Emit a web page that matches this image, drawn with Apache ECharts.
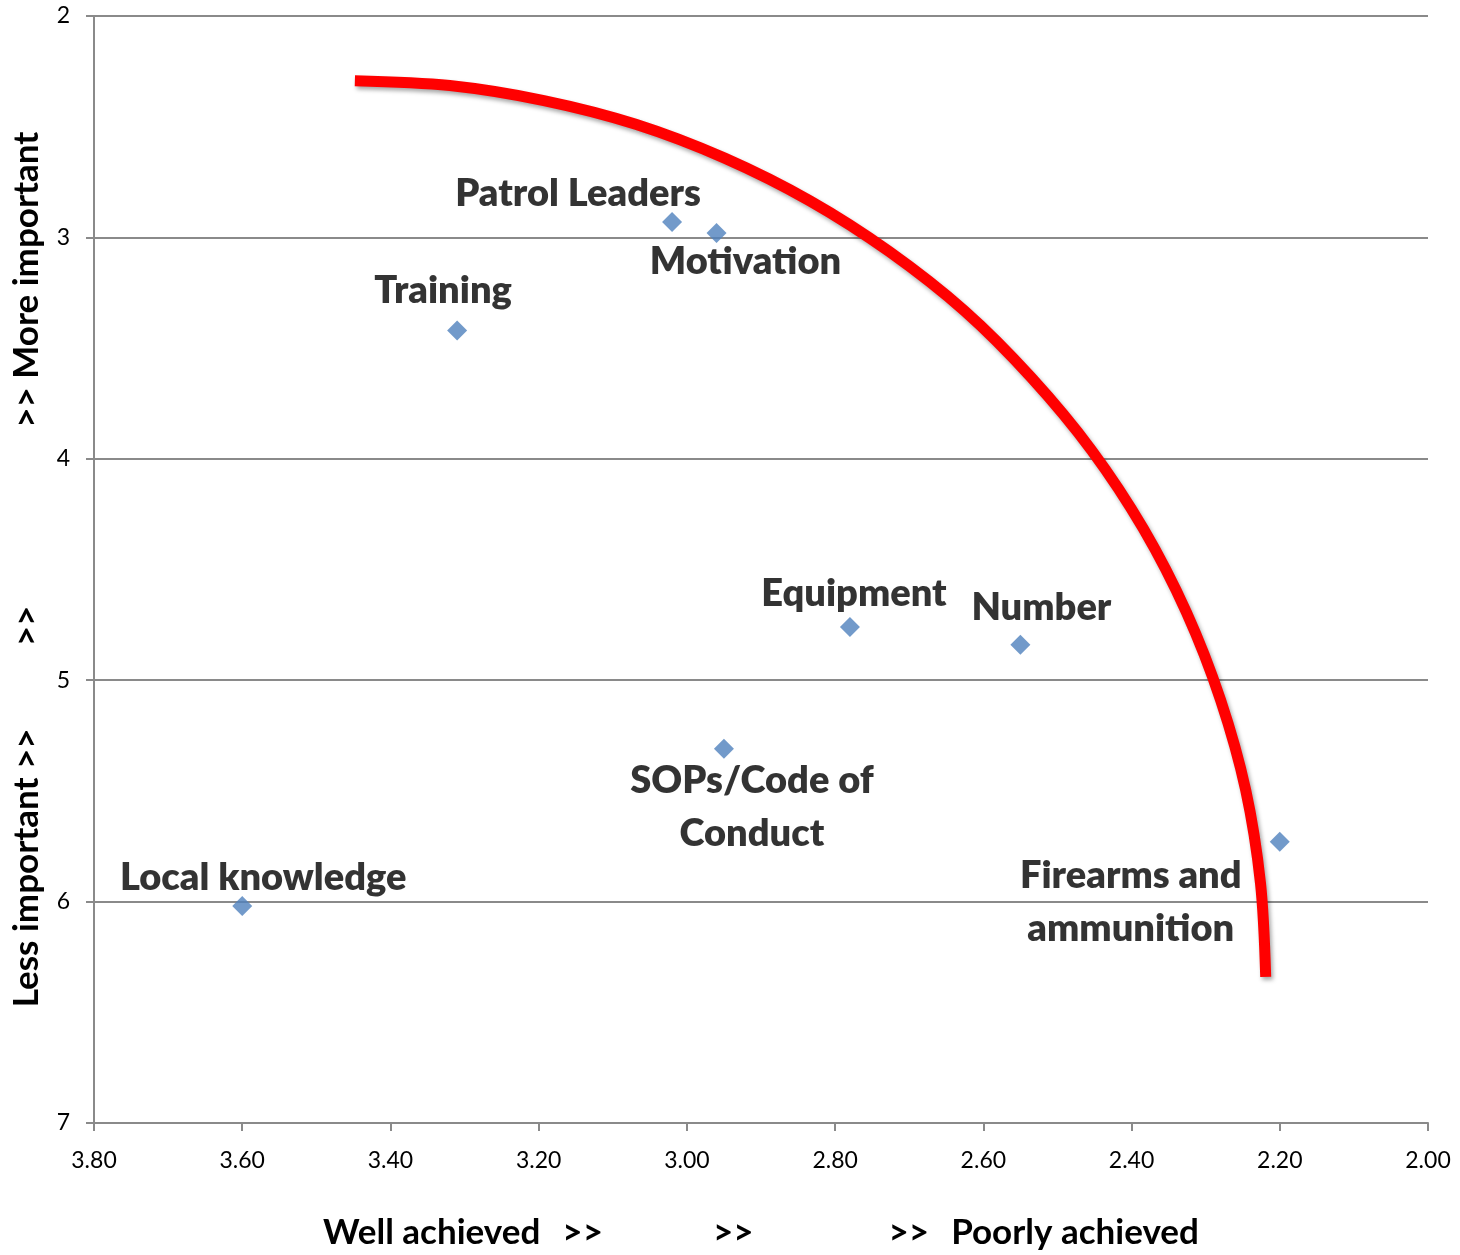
<!DOCTYPE html>
<html>
<head>
<meta charset="utf-8">
<style>
  html, body { margin: 0; padding: 0; background: #fff; }
  #chart { width: 1460px; height: 1255px; }
</style>
<script src="https://cdn.jsdelivr.net/npm/echarts@6/dist/echarts.min.js"></script>
</head>
<body>
<div id="chart"></div>
<script>
// ---- Data ----
const names = ['Patrol Leaders', 'Motivation', 'Training', 'Equipment', 'Number',
               'SOPs/Code of\nConduct', 'Firearms and\nammunition', 'Local knowledge'];
const achievement = [3.02, 2.96, 3.31, 2.78, 2.55, 2.95, 2.20, 3.60];
const importance  = [2.93, 2.98, 3.42, 4.76, 4.84, 5.31, 5.73, 6.02];

// red frontier curve, points read along the drawn arc
const curveX = [3.448, 3.320, 3.193, 3.069, 2.949, 2.834, 2.727, 2.625, 2.535, 2.454, 2.384, 2.326, 2.280, 2.246, 2.226, 2.219];
const curveY = [2.292, 2.314, 2.382, 2.489, 2.642, 2.835, 3.064, 3.333, 3.634, 3.961, 4.316, 4.693, 5.088, 5.496, 5.918, 6.340];

const xTicks = { min: 2.0, max: 3.8, step: 0.2 };
const yTicks = { min: 2, max: 7, step: 1 };

const xAxisName = ['Well achieved', '>>', '>>', '>>', 'Poorly achieved'];
const yAxisName = ['Less important >>', '>>', '>> More important'];

// label placement (pixel offsets from marker), kept separate from data
const labelOffsets = [[-94, -28], [29, 29], [-14, -40], [4, -33], [21, -37], [28, 58], [-149, 60], [21, -28]];

// ---- Build chart ----
const FONT = 'Lato, "Open Sans", sans-serif';
const gray = '#8a8a8a';

const points = names.map((n, i) => ({
  name: n,
  value: [achievement[i], importance[i]],
  label: { offset: labelOffsets[i] }
}));
const curve = curveX.map((x, i) => [x, curveY[i]]);

const chart = echarts.init(document.getElementById('chart'), null, { renderer: 'canvas' });
chart.setOption({
  animation: false,
  backgroundColor: '#ffffff',
  grid: { left: 94, right: 32, top: 16, bottom: 125, containLabel: false },
  xAxis: {
    type: 'value',
    inverse: true,
    min: xTicks.min, max: xTicks.max, interval: xTicks.step,
    axisLine: { show: true, onZero: false, lineStyle: { color: gray, width: 2 } },
    axisTick: { show: true, inside: false, length: 8, lineStyle: { color: gray, width: 2 } },
    splitLine: { show: false },
    axisLabel: {
      margin: 26, color: '#000', fontFamily: FONT, fontSize: 23,
      formatter: v => v.toFixed(2)
    },
    name: '{t|' + xAxisName[0] + '}{g1| }{t|' + xAxisName[1] + '}{g2| }{t|' + xAxisName[2] +
          '}{g3| }{t|' + xAxisName[3] + '}{g4| }{t|' + xAxisName[4] + '}',
    nameLocation: 'middle',
    nameGap: 92,
    nameTextStyle: {
      rich: {
        t: { fontFamily: FONT, fontWeight: 'bold', fontSize: 35, color: '#000' },
        g1: { width: 22, fontSize: 35 },
        g2: { width: 110, fontSize: 35 },
        g3: { width: 135, fontSize: 35 },
        g4: { width: 22, fontSize: 35 }
      }
    }
  },
  yAxis: {
    type: 'value',
    inverse: true,
    min: yTicks.min, max: yTicks.max, interval: yTicks.step,
    axisLine: { show: true, onZero: false, lineStyle: { color: gray, width: 2 } },
    axisTick: { show: true, inside: false, length: 8, lineStyle: { color: gray, width: 2 } },
    splitLine: { show: true, lineStyle: { color: gray, width: 2 } },
    axisLabel: { margin: 24, color: '#000', fontFamily: FONT, fontSize: 23 },
    name: '{t|' + yAxisName[0] + '}{g1| }{t|' + yAxisName[1] + '}{g2| }{t|' + yAxisName[2] + '}',
    nameLocation: 'middle',
    nameGap: 50,
    nameRotate: 90,
    nameTextStyle: {
      rich: {
        t: { fontFamily: FONT, fontWeight: 'bold', fontSize: 35, color: '#000' },
        g1: { width: 82, fontSize: 35 },
        g2: { width: 178, fontSize: 35 }
      }
    }
  },
  series: [
    {
      type: 'line',
      data: curve,
      smooth: 0.33,
      showSymbol: false,
      symbol: 'none',
      silent: true,
      z: 1,
      lineStyle: {
        color: '#ff0000', width: 11, cap: 'butt', join: 'round',
        shadowColor: 'rgba(0,0,0,0.35)', shadowBlur: 4, shadowOffsetX: 2, shadowOffsetY: 3
      }
    },
    {
      type: 'scatter',
      data: points,
      symbol: 'diamond',
      symbolSize: 20,
      z: 3,
      itemStyle: { color: '#4f81bd' },
      label: {
        show: true,
        position: 'inside',
        formatter: p => p.name,
        fontFamily: FONT, fontWeight: 800, fontSize: 38, color: '#000',
        textBorderWidth: 0, textBorderColor: 'transparent',
        lineHeight: 53, align: 'center', verticalAlign: 'middle'
      }
    }
  ]
});
</script>
</body>
</html>
